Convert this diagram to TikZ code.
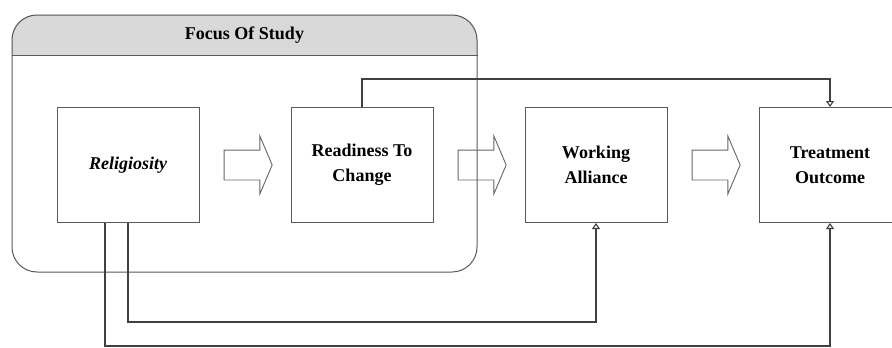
\documentclass[tikz,border=0pt]{standalone}
\usepackage{fontspec}
\setmainfont{Liberation Serif}
\usetikzlibrary{arrows.meta,shapes.arrows,backgrounds,positioning}

\begin{document}
\begin{tikzpicture}[node distance={234pt},
    main/.style = {draw=black!65, line width=1pt, minimum width=142pt, minimum height=115pt, align=center, font=\fontsize{18}{25}\selectfont\bfseries},
    focus/.style = {draw=black!65, line width=1pt, rounded corners=25pt, minimum width=465pt, minimum height=257pt, inner sep=0pt},
    blockarrow/.style = {single arrow, draw=black!60, line width=0.9pt, minimum height=48pt, minimum width=57pt, single arrow head extend=14pt, single arrow tip angle=134, inner xsep=0pt, inner ysep=14.5pt},
    link/.style = {draw=black!75, line width=1.1pt, -{Triangle[open,length=6pt,width=8pt]}}]
        \useasboundingbox (0,0) rectangle (892pt,-348pt);
        \node[focus] (Focus) at (244.5pt,-143.5pt) {};
        \begin{scope}[on background layer]
            \fill[black!15, rounded corners=25pt] ([yshift=-41pt]Focus.north west) |- (Focus.north east) -- ([yshift=-41pt]Focus.north east);
        \end{scope}
        \draw[draw=black!65, line width=1pt] ([yshift=-41pt]Focus.north west) -- ([yshift=-41pt]Focus.north east);
        \node[font=\fontsize{18}{22}\selectfont\bfseries] (Title) at ([yshift=-20.5pt]Focus.north) {Focus Of Study};
        \node[main] (Religiosity) at (128pt,-165pt) {\itshape Religiosity};
        \node[main] (Readiness) [right of = Religiosity] {Readiness To\\Change};
        \node[main] (Alliance) [right of = Readiness] {Working\\Alliance};
        \node[main] (Outcome) [right of = Alliance] {Treatment\\Outcome};
        \node[blockarrow, node distance=117pt] (ArrowOne) [right of = Religiosity] {};
        \node[blockarrow, node distance=117pt] (ArrowTwo) [right of = Readiness] {};
        \node[blockarrow, node distance=117pt] (ArrowThree) [right of = Alliance] {};
        \draw[link] (Readiness.north) -- ++(0,28pt) -| (Outcome.north);
        \draw[link] (Religiosity.south) -- ++(0,-99pt) -| (Alliance.south);
        \draw[link] ([xshift=-23pt]Religiosity.south) -- ++(0,-123pt) -| (Outcome.south);
    \end{tikzpicture}
\end{document}
